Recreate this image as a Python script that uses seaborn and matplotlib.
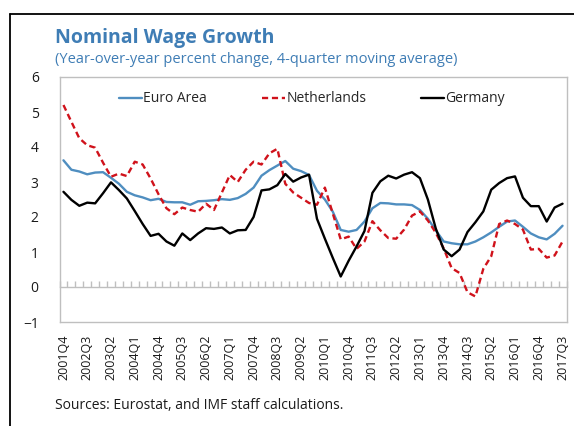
import numpy as np
import pandas as pd
import matplotlib
matplotlib.use("Agg")
import matplotlib.pyplot as plt
from matplotlib.lines import Line2D
import seaborn as sns

# ---------------- data ----------------
tick_labels = ["2001Q4", "2002Q3", "2003Q2", "2004Q1", "2004Q4", "2005Q3", "2006Q2",
               "2007Q1", "2007Q4", "2008Q3", "2009Q2", "2010Q1", "2010Q4", "2011Q3",
               "2012Q2", "2013Q1", "2013Q4", "2014Q3", "2015Q2", "2016Q1", "2016Q4",
               "2017Q3"]

euro_area = [3.62, 3.35, 3.30, 3.22, 3.27, 3.28, 3.12, 2.95, 2.72, 2.62, 2.56, 2.48,
             2.52, 2.43, 2.42, 2.42, 2.35, 2.45, 2.46, 2.48, 2.51, 2.49, 2.54, 2.66,
             2.84, 3.18, 3.34, 3.47, 3.60, 3.38, 3.31, 3.20, 2.75, 2.50, 2.15, 1.63,
             1.58, 1.63, 1.87, 2.25, 2.40, 2.39, 2.36, 2.36, 2.34, 2.20, 1.95, 1.62,
             1.30, 1.25, 1.22, 1.22, 1.30, 1.42, 1.56, 1.72, 1.87, 1.90, 1.72, 1.53,
             1.42, 1.36, 1.52, 1.75]

netherlands = [5.20, 4.72, 4.25, 4.05, 3.98, 3.55, 3.15, 3.24, 3.17, 3.58, 3.50, 3.10,
               2.65, 2.25, 2.08, 2.27, 2.20, 2.15, 2.38, 2.20, 2.70, 3.20, 3.00, 3.35,
               3.58, 3.50, 3.82, 3.95, 2.95, 2.70, 2.55, 2.40, 2.35, 2.84, 2.10, 1.36,
               1.44, 1.09, 1.30, 1.88, 1.62, 1.40, 1.38, 1.64, 2.04, 2.16, 1.90, 1.55,
               1.10, 0.54, 0.40, -0.15, -0.27, 0.52, 0.88, 1.80, 1.90, 1.80, 1.64, 1.07,
               1.09, 0.84, 0.90, 1.30]

germany = [2.72, 2.49, 2.32, 2.41, 2.39, 2.68, 2.99, 2.77, 2.53, 2.17, 1.80, 1.46,
           1.52, 1.30, 1.18, 1.53, 1.34, 1.53, 1.68, 1.66, 1.70, 1.53, 1.62, 1.63,
           2.00, 2.76, 2.79, 2.91, 3.23, 3.01, 3.13, 3.21, 1.95, 1.38, 0.83, 0.30,
           0.75, 1.16, 1.60, 2.69, 3.02, 3.18, 3.10, 3.21, 3.28, 3.11, 2.50, 1.67,
           1.07, 0.88, 1.07, 1.57, 1.85, 2.16, 2.78, 2.97, 3.11, 3.16, 2.55, 2.31,
           2.31, 1.87, 2.27, 2.38]

series_names = ["Euro Area", "Netherlands", "Germany"]
colors = {"Euro Area": "#4f8ec0", "Netherlands": "#d0121b", "Germany": "#000000"}
dashes = {"Euro Area": "", "Netherlands": (2.6, 1.6), "Germany": ""}

n = len(euro_area)
df = pd.DataFrame({"q": np.arange(n), "Euro Area": euro_area,
                   "Netherlands": netherlands, "Germany": germany})
long = df.melt(id_vars="q", var_name="series", value_name="value")

# ---------------- style ----------------
sns.set_style("white")
plt.rcParams["font.family"] = ["Open Sans", "DejaVu Sans"]

W, H = 574, 426
fig = plt.figure(figsize=(W / 100, H / 100), dpi=100)
ax = fig.add_axes([59.5 / W, 1 - 322 / H, 507 / W, 245 / H])

sns.lineplot(data=long, x="q", y="value", hue="series", style="series",
             hue_order=series_names, style_order=series_names,
             palette=colors, dashes=dashes, linewidth=1.7, ax=ax, legend=False)

grey = "#bfbfbf"
ax.set_xlim(-0.5, n - 0.5)
ax.set_ylim(-1, 6)
ax.set_yticks(range(-1, 7))
ax.set_xticks(np.arange(0, n, 3))
ax.set_xticklabels(tick_labels, rotation=90, fontsize=9, color="#1a1a1a")
ax.tick_params(axis="x", length=0, pad=9)
ax.tick_params(axis="y", length=3, color=grey, width=1, pad=12, labelsize=10,
               labelcolor="#1a1a1a")
ax.set_xlabel("")
ax.set_ylabel("")
for s in ax.spines.values():
    s.set_color(grey)
    s.set_linewidth(1)
    s.set_visible(True)

# zero line with quarter ticks
sec = ax.secondary_xaxis(1 / 7)
sec.set_xticks(np.arange(-0.5, n, 1))
sec.tick_params(direction="in", length=4, color=grey, width=1, labelbottom=False)
sec.spines["bottom"].set_color(grey)
sec.spines["bottom"].set_linewidth(1)

# legend
handles = [Line2D([], [], color=colors["Euro Area"], lw=1.7),
           Line2D([], [], color=colors["Netherlands"], lw=1.7, linestyle=(0, (2.6, 1.6))),
           Line2D([], [], color=colors["Germany"], lw=1.7)]
ax.legend(handles, series_names, ncol=3, frameon=False, loc="center left",
          bbox_to_anchor=(119 / W, 1 - 99 / H), bbox_transform=fig.transFigure,
          borderpad=0, borderaxespad=0, handlelength=1.65, handletextpad=0.1,
          columnspacing=3.95, fontsize=10)

# titles and note
title_blue = "#3f7db5"
fig.text(55 / W, 1 - 43 / H, "Nominal Wage Growth", fontsize=14, fontweight="bold",
         color=title_blue, va="baseline", ha="left")
fig.text(55 / W, 1 - 63 / H, "(Year-over-year percent change, 4-quarter moving average)",
         fontsize=10.5, color=title_blue, va="baseline", ha="left")
fig.text(55 / W, 1 - 409 / H, "Sources: Eurostat, and IMF staff calculations.",
         fontsize=10, color="#1a1a1a", va="baseline", ha="left")

# outer box (left and top edges visible)
fig.add_artist(Line2D([9.5 / W, 9.5 / W], [0, 1 - 14 / H], transform=fig.transFigure,
                      color="black", lw=1.3))
fig.add_artist(Line2D([9.5 / W, 1], [1 - 14 / H, 1 - 14 / H], transform=fig.transFigure,
                      color="black", lw=1.3))

fig.savefig("out.png", dpi=100)
